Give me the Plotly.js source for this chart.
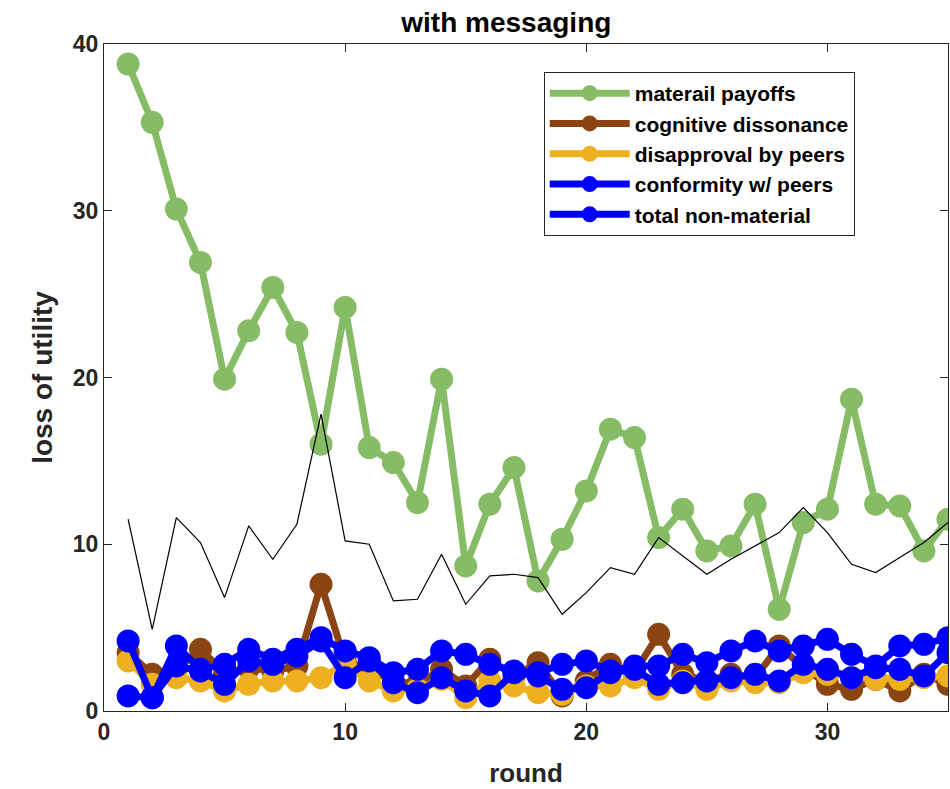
<!DOCTYPE html>
<html>
<head>
<meta charset="utf-8">
<script src="https://cdn.plot.ly/plotly-3.0.1.min.js"></script>
<style>
  html, body { margin: 0; padding: 0; background: #fff; }
  #chart { width: 950px; height: 789px; }
</style>
</head>
<body>
<div id="chart"></div>
<script>
// Rounds 1..35
const rounds = Array.from({length: 35}, (_, i) => i + 1);

const materialPayoffs = [38.8, 35.3, 30.1, 26.9, 19.9, 22.8, 25.4, 22.7, 16.0, 24.2,
                         15.8, 14.9, 12.5, 19.9, 8.7, 12.4, 14.6, 7.8, 10.3, 13.2,
                         16.9, 16.4, 10.4, 12.1, 9.6, 9.9, 12.4, 6.1, 11.3, 12.1,
                         18.7, 12.4, 12.3, 9.6, 11.5];

const cognitiveDissonance = [3.5, 2.2, 2.5, 3.7, 2.3, 2.6, 2.4, 2.7, 7.6, 3.0,
                             2.5, 1.8, 1.6, 2.5, 1.5, 3.1, 2.1, 2.9, 0.9, 1.8,
                             2.8, 2.3, 4.6, 2.2, 1.8, 2.2, 2.0, 3.9, 2.6, 1.6,
                             1.3, 1.9, 1.2, 2.2, 1.6];

const disapprovalByPeers = [3.0, 1.6, 2.0, 1.8, 1.2, 1.6, 1.8, 1.8, 2.0, 2.8,
                            1.8, 1.2, 1.3, 1.9, 0.8, 1.8, 1.5, 1.1, 1.0, 1.5,
                            1.5, 2.0, 1.3, 1.8, 1.3, 1.8, 1.7, 1.7, 2.3, 2.2,
                            2.0, 1.9, 1.9, 2.0, 2.1];

const conformityWithPeers = [4.2, 0.8, 3.9, 2.5, 2.8, 3.7, 3.1, 3.7, 4.4, 3.6,
                             3.2, 2.3, 2.5, 3.6, 3.4, 2.8, 2.4, 2.3, 2.8, 3.0,
                             2.4, 2.7, 2.7, 3.4, 2.9, 3.6, 4.2, 3.6, 3.9, 4.3,
                             3.4, 2.7, 3.9, 4.0, 4.4];

const totalNonMaterial = [0.9, 0.8, 2.7, 2.4, 1.6, 3.0, 2.8, 3.3, 4.2, 2.0,
                          3.0, 1.7, 1.1, 2.0, 1.2, 0.9, 2.3, 2.1, 1.3, 1.4,
                          2.3, 2.5, 1.6, 1.7, 1.8, 2.0, 2.2, 1.8, 2.8, 2.5,
                          2.0, 2.6, 2.5, 2.1, 3.5];

const referenceLine = [11.5, 4.9, 11.6, 10.1, 6.8, 11.1, 9.1, 11.2, 17.8, 10.2,
                       10.0, 6.6, 6.7, 9.4, 6.4, 8.1, 8.2, 8.0, 5.8, 7.1,
                       8.6, 8.2, 10.4, 9.3, 8.2, 9.1, 9.9, 10.7, 12.2, 10.7,
                       8.8, 8.3, 9.2, 10.1, 11.3];

const seriesNames = ['materail payoffs', 'cognitive dissonance', 'disapproval by peers',
                     'conformity w/ peers', 'total non-material'];
const seriesColors = ['#86BC66', '#8B4513', '#EDB120', '#0000FF', '#0000FF'];
const seriesData = [materialPayoffs, cognitiveDissonance, disapprovalByPeers,
                    conformityWithPeers, totalNonMaterial];

const FONT = 'Liberation Sans, Arial, sans-serif';

const traces = seriesData.map((ys, i) => ({
  x: rounds,
  y: ys,
  name: seriesNames[i],
  type: 'scatter',
  mode: 'lines+markers',
  line: {color: seriesColors[i], width: 7},
  marker: {color: seriesColors[i], size: 23, line: {width: 0}},
  cliponaxis: true
}));

traces.push({
  x: rounds,
  y: referenceLine,
  type: 'scatter',
  mode: 'lines',
  line: {color: '#000000', width: 1.2},
  showlegend: false,
  hoverinfo: 'skip'
});

const axisCommon = {
  showgrid: false,
  zeroline: false,
  showline: true,
  mirror: 'ticks',
  linecolor: '#262626',
  linewidth: 1,
  ticks: 'inside',
  ticklen: 8,
  tickwidth: 1,
  tickcolor: '#262626',
  tickfont: {family: FONT, size: 23, color: '#262626', weight: 'bold'}
};

const layout = {
  width: 950,
  height: 789,
  paper_bgcolor: '#ffffff',
  plot_bgcolor: '#ffffff',
  margin: {l: 104, r: 2, t: 44, b: 78},
  title: {
    text: 'with messaging',
    font: {family: FONT, size: 28, color: '#000000', weight: 'bold'},
    xref: 'container', x: 0.533, xanchor: 'center',
    yref: 'container', y: 0.972, yanchor: 'middle'
  },
  xaxis: Object.assign({}, axisCommon, {
    range: [0, 35],
    tickvals: [0, 10, 20, 30],
    ticktext: ['0', '10', '20', '30'],
    title: {text: 'round', font: {family: FONT, size: 26, color: '#262626', weight: 'bold'}, standoff: 20}
  }),
  yaxis: Object.assign({}, axisCommon, {
    range: [0, 40],
    tickvals: [0, 10, 20, 30, 40],
    ticktext: ['0', '10', '20', '30', '40'],
    title: {text: 'loss of utility', font: {family: FONT, size: 28, color: '#262626', weight: 'bold'}, standoff: 12}
  }),
  legend: {
    x: 0.521, y: 0.958, xanchor: 'left', yanchor: 'top',
    bgcolor: '#ffffff',
    bordercolor: '#262626',
    borderwidth: 1,
    font: {family: FONT, size: 21, color: '#000000', weight: 'bold'},
    itemwidth: 80,
    entrywidth: 250,
    entrywidthmode: 'pixels',
    tracegroupgap: 0
  },
  showlegend: true
};

Plotly.newPlot('chart', traces, layout, {displayModeBar: false, staticPlot: true});
</script>
</body>
</html>
